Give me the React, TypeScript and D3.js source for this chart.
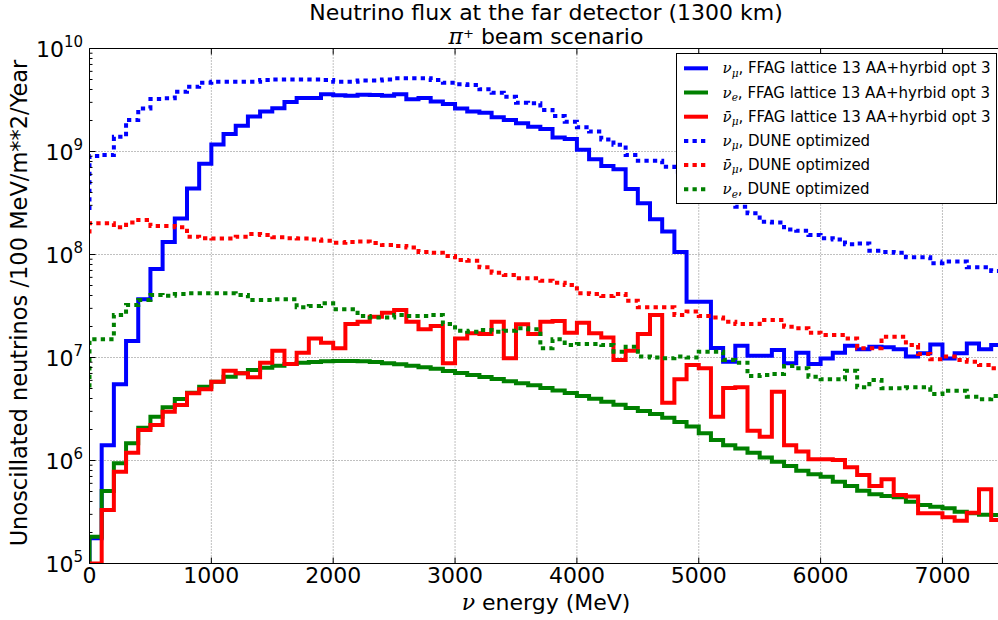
import React from 'react';
import * as d3 from 'd3';

// ---------------- data (flux per 100 MeV bin, starting at 0 MeV) ----------------
const BIN_WIDTH_MEV = 100;
const X_MAX = 7500;
const X_TICKS = [0, 1000, 2000, 3000, 4000, 5000, 6000, 7000];
const Y_TICKS = [1e5, 1e6, 1e7, 1e8, 1e9, 1e10];
const Y_TICK_EXPONENTS = ['5', '6', '7', '8', '9', '10'];

const numuFFAG = [
  1.76e5, 1.41e6, 5.5e6, 1.45e7, 3.67e7, 7.24e7, 1.32e8, 2.24e8, 4.37e8, 7.59e8,
  1.17e9, 1.48e9, 1.78e9, 2.19e9, 2.45e9, 2.63e9, 3.02e9, 3.31e9, 3.31e9, 3.59e9,
  3.51e9, 3.47e9, 3.55e9, 3.54e9, 3.48e9, 3.59e9, 3.21e9, 3.3e9, 3.05e9, 2.89e9,
  2.62e9, 2.44e9, 2.38e9, 2.15e9, 2.02e9, 1.88e9, 1.74e9, 1.65e9, 1.37e9, 1.32e9,
  1.04e9, 8.39e8, 7.23e8, 6.71e8, 4.33e8, 3.14e8, 2.2e8, 1.67e8, 1.06e8, 3.48e7,
  3.48e7, 1.24e7, 9.1e6, 1.3e7, 1.04e7, 1.04e7, 1.18e7, 8.8e6, 1.11e7, 8.65e6,
  9.8e6, 1.11e7, 1.3e7, 1.2e7, 1.27e7, 1.26e7, 1.2e7, 1.02e7, 1.1e7, 1.34e7,
  9.8e6, 1.1e7, 1.37e7, 1.2e7, 1.32e7,
];

const nueFFAG = [
  1.82e5, 5.06e5, 9.4e5, 1.47e6, 2.08e6, 2.66e6, 3.28e6, 3.95e6, 4.55e6, 5.21e6,
  5.82e6, 6.52e6, 7.03e6, 7.57e6, 7.96e6, 8.32e6, 8.65e6, 8.91e6, 9.04e6, 9.18e6,
  9.25e6, 9.25e6, 9.18e6, 9.02e6, 8.81e6, 8.61e6, 8.32e6, 8.04e6, 7.76e6, 7.41e6,
  7.08e6, 6.76e6, 6.46e6, 6.17e6, 5.89e6, 5.62e6, 5.37e6, 5.07e6, 4.79e6, 4.52e6,
  4.23e6, 3.98e6, 3.72e6, 3.47e6, 3.24e6, 3.02e6, 2.82e6, 2.6e6, 2.37e6, 2.14e6,
  1.84e6, 1.58e6, 1.41e6, 1.31e6, 1.19e6, 1.07e6, 9.75e5, 8.85e5, 7.96e5, 7.35e5,
  6.97e5, 6.22e5, 5.65e5, 5.09e5, 4.7e5, 4.52e5, 4.39e5, 3.98e5, 3.7e5, 3.56e5,
  3.44e5, 3.18e5, 3.07e5, 2.98e5, 2.96e5,
];

const numubarFFAG = [
  0, 3.3e5, 7.78e5, 1.19e6, 1.98e6, 2.21e6, 2.98e6, 3.46e6, 4.49e6, 4.91e6,
  5.82e6, 7.45e6, 7.03e6, 6.43e6, 8.91e6, 1.16e7, 8.65e6, 1.11e7, 1.53e7, 1.39e7,
  1.23e7, 2.11e7, 2.23e7, 2.49e7, 2.72e7, 2.89e7, 2.23e7, 1.88e7, 2.02e7, 8.79e6,
  1.53e7, 1.72e7, 1.69e7, 2.23e7, 9.82e6, 2.1e7, 1.69e7, 2.23e7, 2.26e7, 1.74e7,
  2.18e7, 1.72e7, 1.56e7, 9.46e6, 1.16e7, 1.69e7, 2.59e7, 3.64e6, 6.15e6, 8.45e6,
  7.85e6, 2.66e6, 5.07e6, 5.13e6, 1.95e6, 1.7e6, 4.66e6, 1.41e6, 1.22e6, 1.03e6,
  1.03e6, 1.01e6, 8.59e5, 7.23e5, 5.65e5, 6.56e5, 4.62e5, 4.46e5, 3.07e5, 3.07e5,
  2.81e5, 2.6e5, 3.11e5, 5.25e5, 2.64e5,
];

const numuDUNE = [
  9.04e8, 9.25e8, 1.39e9, 2.02e9, 2.62e9, 3.24e9, 3.28e9, 3.81e9, 4.26e9, 4.66e9,
  4.76e9, 4.76e9, 4.76e9, 4.76e9, 4.94e9, 5.01e9, 5.01e9, 5.01e9, 5.01e9, 4.94e9,
  4.76e9, 4.76e9, 4.88e9, 4.88e9, 5.01e9, 5.13e9, 5.13e9, 5.13e9, 4.94e9, 4.66e9,
  4.49e9, 4.43e9, 4.02e9, 3.72e9, 3.4e9, 2.98e9, 2.94e9, 2.53e9, 2.21e9, 1.95e9,
  1.72e9, 1.56e9, 1.31e9, 1.16e9, 9.25e8, 8.15e8, 8.15e8, 7.11e8, 6.37e8, 5.5e8,
  4.68e8, 3.98e8, 3.39e8, 2.91e8, 2.51e8, 2.08e8, 2.05e8, 1.75e8, 1.7e8, 1.55e8,
  1.44e8, 1.4e8, 1.26e8, 1.28e8, 1.09e8, 1.06e8, 1.04e8, 9.4e7, 9.4e7, 8.22e7,
  8.53e7, 8.53e7, 7.52e7, 7.52e7, 6.93e7,
];

const numubarDUNE = [
  2.01e8, 2.01e8, 1.84e8, 2.04e8, 2.16e8, 1.89e8, 1.89e8, 1.84e8, 1.49e8, 1.44e8,
  1.43e8, 1.43e8, 1.49e8, 1.58e8, 1.55e8, 1.47e8, 1.44e8, 1.43e8, 1.4e8, 1.36e8,
  1.3e8, 1.32e8, 1.34e8, 1.29e8, 1.24e8, 1.21e8, 1.17e8, 1.06e8, 1.04e8, 9.66e7,
  8.85e7, 8.71e7, 7.5e7, 6.65e7, 6.32e7, 5.87e7, 5.87e7, 5.57e7, 5.33e7, 5.06e7,
  4.2e7, 4.14e7, 3.95e7, 4.14e7, 3.56e7, 3.07e7, 3.07e7, 3.07e7, 2.59e7, 2.79e7,
  2.53e7, 2.45e7, 2.23e7, 2.11e7, 2.11e7, 2.31e7, 2.31e7, 1.99e7, 1.92e7, 1.74e7,
  1.65e7, 1.65e7, 1.53e7, 1.23e7, 1.23e7, 1.59e7, 1.59e7, 1.32e7, 1.08e7, 9.62e6,
  1.02e7, 9.46e6, 9.1e6, 8.45e6, 7.85e6,
];

const nueDUNE = [
  1.5e7, 1.5e7, 2.59e7, 3.24e7, 3.61e7, 4.05e7, 3.98e7, 4.14e7, 4.2e7, 4.2e7,
  4.2e7, 4.2e7, 4.05e7, 3.61e7, 3.61e7, 3.67e7, 3.67e7, 3.07e7, 3.16e7, 3.36e7,
  2.94e7, 2.94e7, 2.53e7, 2.45e7, 2.45e7, 2.59e7, 2.53e7, 2.53e7, 2.59e7, 2.11e7,
  1.82e7, 1.78e7, 1.85e7, 1.78e7, 1.82e7, 1.92e7, 1.88e7, 1.23e7, 1.5e7, 1.32e7,
  1.35e7, 1.35e7, 1.32e7, 1.14e7, 1.27e7, 1.02e7, 1.0e7, 9.82e6, 1.02e7, 1.0e7,
  1.14e7, 1.14e7, 9.46e6, 8.91e6, 6.61e6, 6.76e6, 6.92e6, 8.26e6, 7.85e6, 6.52e6,
  6.14e6, 6.14e6, 7.45e6, 5.13e6, 6.05e6, 5.02e6, 5.02e6, 5.13e6, 5.13e6, 4.43e6,
  4.76e6, 4.76e6, 4.17e6, 3.93e6, 4.23e6,
];

// value at which each DUNE curve enters at E = 0
const DUNE_LEFT_EDGE = { numu: 2.7e8, numubar: 1.6e8, nue: 5.1e6 };

// ---------------- drawing ----------------
const SANS = '"DejaVu Sans", "Bitstream Vera Sans", sans-serif';
const MATH = '"DejaVu Serif", serif';

type Flavor = 'numu' | 'nue' | 'numubar';

const SERIES: { flavor: Flavor; data: number[]; color: string; dotted: boolean; text: string; start?: number }[] = [
  { flavor: 'numu', data: numuFFAG, color: '#0000ff', dotted: false, text: ', FFAG lattice 13 AA+hyrbid opt 3' },
  { flavor: 'nue', data: nueFFAG, color: '#008000', dotted: false, text: ', FFAG lattice 13 AA+hyrbid opt 3' },
  { flavor: 'numubar', data: numubarFFAG, color: '#ff0000', dotted: false, text: ', FFAG lattice 13 AA+hyrbid opt 3' },
  { flavor: 'numu', data: numuDUNE, color: '#0000ff', dotted: true, text: ', DUNE optimized', start: DUNE_LEFT_EDGE.numu },
  { flavor: 'numubar', data: numubarDUNE, color: '#ff0000', dotted: true, text: ', DUNE optimized', start: DUNE_LEFT_EDGE.numubar },
  { flavor: 'nue', data: nueDUNE, color: '#008000', dotted: true, text: ', DUNE optimized', start: DUNE_LEFT_EDGE.nue },
];

function NuLabel({ flavor, x, y, size, rest }: { flavor: Flavor; x: number; y: number; size: number; rest: string }) {
  const sub = flavor === 'nue' ? 'e' : 'μ';
  const nu = flavor === 'numubar' ? 'ν\u0304' : 'ν';
  return (
    <text x={x} y={y} fontSize={size} fontFamily={SANS} fill="#000">
      <tspan fontFamily={MATH} fontStyle="italic">{nu}</tspan>
      <tspan fontFamily={MATH} fontStyle="italic" fontSize={size * 0.7} dy={size * 0.22}>{sub}</tspan>
      <tspan dy={-size * 0.22}>{rest}</tspan>
    </text>
  );
}

export default function App() {
  const W = 998;
  const H = 620;
  const left = 89.5;
  const top = 48.5;
  const bottom = 563.5;
  const pxPer1000 = 121.85;
  const right = left + (pxPer1000 * X_MAX) / 1000;

  const x = d3.scaleLinear().domain([0, X_MAX]).range([left, right]);
  const y = d3.scaleLog().domain([Y_TICKS[0], Y_TICKS[Y_TICKS.length - 1]]).range([bottom, top]);
  const yv = (v: number) => (v > 0 ? y(v) : bottom);

  const stepPath = (vals: number[], start?: number) => {
    const pts: [number, number][] = [[x(0), start ? yv(start) : bottom]];
    vals.forEach((v, i) => {
      pts.push([x(i * BIN_WIDTH_MEV), yv(v)]);
      pts.push([x((i + 1) * BIN_WIDTH_MEV), yv(v)]);
    });
    pts.push([x(vals.length * BIN_WIDTH_MEV), bottom]);
    return d3.line()(pts) || '';
  };

  const minorTicks: number[] = [];
  for (let d = 0; d < Y_TICKS.length - 1; d++) {
    for (let m = 2; m <= 9; m++) minorTicks.push(Y_TICKS[d] * m);
  }

  const legendX = 676.5;
  const legendY = 53.5;
  const rowY = (i: number) => 68.3 + 24.2 * i;

  return (
    <svg width={W} height={H} style={{ position: 'absolute', left: 0, top: 0, background: '#fff' }}>
      <defs>
        <clipPath id="plotClip">
          <rect x={left} y={top} width={right - left} height={bottom - top} />
        </clipPath>
      </defs>
      <rect x={0} y={0} width={W} height={H} fill="#fff" />

      {/* grid */}
      <g stroke="#000" strokeWidth={0.7} strokeDasharray="1 2" opacity={0.7}>
        {X_TICKS.filter((t) => t > 0).map((t) => (
          <line key={'gx' + t} x1={x(t)} x2={x(t)} y1={top} y2={bottom} />
        ))}
        {Y_TICKS.slice(1, -1).map((t) => (
          <line key={'gy' + t} x1={left} x2={right} y1={y(t)} y2={y(t)} />
        ))}
      </g>

      {/* data */}
      <g clipPath="url(#plotClip)" fill="none">
        {SERIES.map((s, i) => (
          <path
            key={i}
            d={stepPath(s.data, s.start)}
            stroke={s.color}
            strokeWidth={4}
            strokeLinejoin="miter"
            strokeDasharray={s.dotted ? '4.3 4.2' : undefined}
          />
        ))}
      </g>

      {/* ticks */}
      <g stroke="#000" strokeWidth={1}>
        {X_TICKS.map((t) => (
          <g key={'tx' + t}>
            <line x1={x(t)} x2={x(t)} y1={bottom} y2={bottom - 6} />
            <line x1={x(t)} x2={x(t)} y1={top} y2={top + 6} />
          </g>
        ))}
        {Y_TICKS.map((t) => (
          <line key={'ty' + t} x1={left} x2={left + 6} y1={y(t)} y2={y(t)} />
        ))}
        {minorTicks.map((t) => (
          <line key={'tm' + t} x1={left} x2={left + 3} y1={y(t)} y2={y(t)} />
        ))}
      </g>

      {/* spines */}
      <g stroke="#000" strokeWidth={1} fill="none">
        <line x1={left} x2={left} y1={top} y2={bottom} />
        <line x1={left} x2={right} y1={top} y2={top} />
        <line x1={left} x2={right} y1={bottom} y2={bottom} />
        <line x1={right} x2={right} y1={top} y2={bottom} />
      </g>

      {/* tick labels */}
      <g fontFamily={SANS} fontSize={22} fill="#000">
        {X_TICKS.map((t) => (
          <text key={'lx' + t} x={x(t)} y={583} textAnchor="middle">
            {String(t)}
          </text>
        ))}
        {Y_TICKS.map((t, i) => (
          <text key={'ly' + t} x={83} y={y(t) + 8} textAnchor="end">
            <tspan>10</tspan>
            <tspan fontSize={15} dy={-10}>{Y_TICK_EXPONENTS[i]}</tspan>
          </text>
        ))}
      </g>

      {/* titles */}
      <g fontFamily={SANS} fontSize={22} fill="#000" textAnchor="middle">
        <text x={546} y={20}>Neutrino flux at the far detector (1300 km)</text>
        <text x={546} y={44}>
          <tspan fontFamily={MATH} fontStyle="italic">π</tspan>
          <tspan fontSize={13} dy={-6}>+</tspan>
          <tspan dy={6}>{'  beam scenario'}</tspan>
        </text>
        <text x={546} y={610}>
          <tspan fontFamily={MATH} fontStyle="italic">ν</tspan>
          <tspan> energy (MeV)</tspan>
        </text>
        <text transform={`translate(27,${(top + bottom) / 2 - 3}) rotate(-90)`} fontSize={22.5}>
          Unoscillated neutrinos /100 MeV/m**2/Year
        </text>
      </g>

      {/* legend */}
      <g>
        <rect x={legendX} y={legendY} width={320} height={150} fill="#fff" stroke="#000" strokeWidth={1} />
        {SERIES.map((s, i) => (
          <g key={'lg' + i}>
            <line
              x1={684}
              x2={708}
              y1={rowY(i)}
              y2={rowY(i)}
              stroke={s.color}
              strokeWidth={4}
              strokeDasharray={s.dotted ? '4.3 4.2' : undefined}
            />
            <NuLabel flavor={s.flavor} x={722.5} y={rowY(i) + 5} size={15} rest={s.text} />
          </g>
        ))}
      </g>
    </svg>
  );
}
